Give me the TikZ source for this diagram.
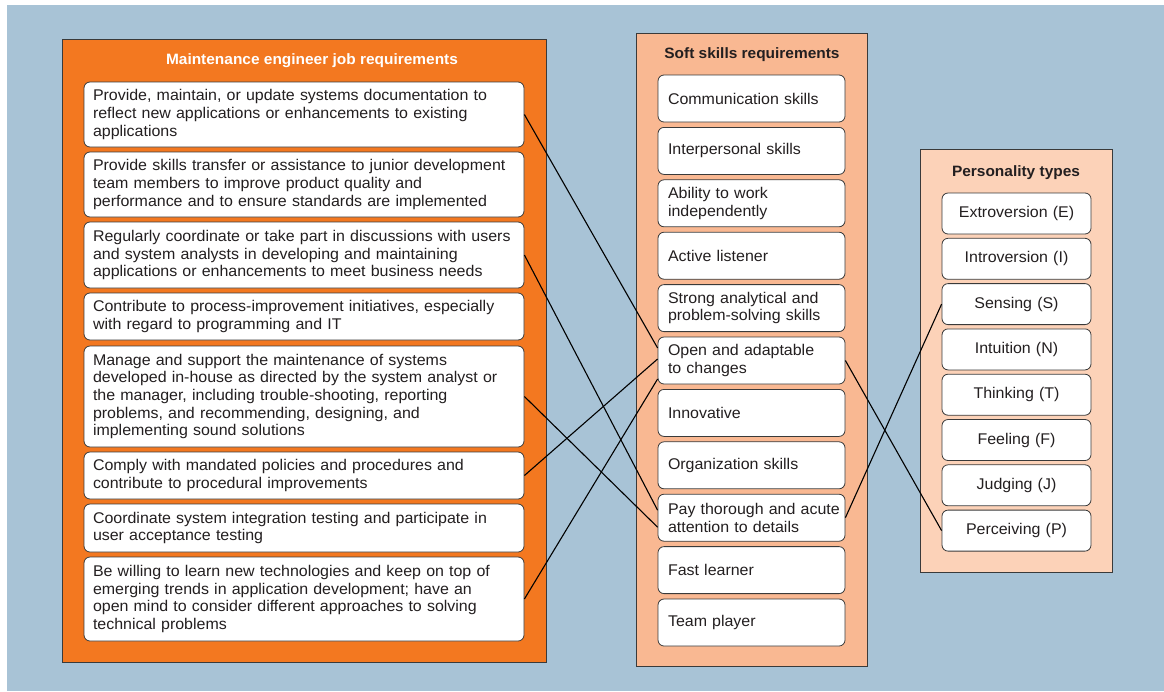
\documentclass[tikz,border=0pt]{standalone}
\usepackage{fontspec}
\setmainfont{Liberation Sans}[FakeStretch=1.03]
\usetikzlibrary{calc}
\definecolor{bgblue}{HTML}{A8C3D6}
\definecolor{orng}{HTML}{F37820}
\definecolor{salmon}{HTML}{F9B892}
\definecolor{peach}{HTML}{FCD2B8}
\definecolor{txt}{HTML}{231F20}
\definecolor{edgec}{HTML}{3A3A3A}
\begin{document}
\begin{tikzpicture}[x=1pt,y=-1pt,
  font=\fontsize{15.5}{17.7}\selectfont,
  panel/.style={draw=edgec, line width=0.9pt, inner sep=0pt, anchor=north west},
  ttl/.style={font=\fontsize{15}{17.7}\selectfont\bfseries, inner sep=0pt},
  jobbox/.style={draw=edgec, fill=white, rounded corners=6pt, line width=0.8pt,
    minimum width=440pt, text width=422pt, inner xsep=9pt, inner ysep=0pt,
    align=left, text=txt},
  skillbox/.style={draw=edgec, fill=white, rounded corners=6pt, line width=0.8pt,
    minimum width=187pt, text width=167pt, inner xsep=10pt, inner ysep=0pt,
    minimum height=47pt, align=left, text=txt},
  ptbox/.style={draw=edgec, fill=white, rounded corners=6pt, line width=0.8pt,
    minimum width=149pt, text width=131pt, inner xsep=9pt, inner ysep=0pt,
    minimum height=41pt, align=center, text=txt},
  conn/.style={draw=black, line width=1.1pt}]
\useasboundingbox (0,0) rectangle (1164,691);
\fill[white] (0,0) rectangle (1164,691);
\fill[bgblue] (7,5) rectangle (1164,691);

% panels
\node[panel, fill=orng, minimum width=484pt, minimum height=623pt] (jp) at (62,39) {};
\node[panel, fill=salmon, minimum width=231pt, minimum height=633pt] (sp) at (636,33) {};
\node[panel, fill=peach, minimum width=192pt, minimum height=423pt] (pp) at (920,149) {};

\node[ttl, text=white] (jt) at (312,61) {Maintenance engineer job requirements};
\node[ttl, text=txt] (st) at (752,55) {Soft skills requirements};
\node[ttl, text=txt] (pt) at (1016,173) {Personality types};

% job requirement boxes
\node[jobbox, minimum height=65pt] (j1) at (304,114.5) {Provide, maintain, or update systems documentation to\\ reflect new applications or enhancements to existing\\ applications};
\node[jobbox, minimum height=65pt] (j2) at (304,184.5) {Provide skills transfer or assistance to junior development\\ team members to improve product quality and\\ performance and to ensure standards are implemented};
\node[jobbox, minimum height=66pt] (j3) at (304,255) {Regularly coordinate or take part in discussions with users\\ and system analysts in developing and maintaining\\ applications or enhancements to meet business needs};
\node[jobbox, minimum height=47pt] (j4) at (304,316.5) {Contribute to process-improvement initiatives, especially\\ with regard to programming and IT};
\node[jobbox, minimum height=101pt] (j5) at (304,396.5) {Manage and support the maintenance of systems\\ developed in-house as directed by the system analyst or\\ the manager, including trouble-shooting, reporting\\ problems, and recommending, designing, and\\ implementing sound solutions};
\node[jobbox, minimum height=47pt] (j6) at (304,475.5) {Comply with mandated policies and procedures and\\ contribute to procedural improvements};
\node[jobbox, minimum height=48pt] (j7) at (304,528) {Coordinate system integration testing and participate in\\ user acceptance testing};
\node[jobbox, minimum height=84pt] (j8) at (304,599) {Be willing to learn new technologies and keep on top of\\ emerging trends in application development; have an\\ open mind to consider different approaches to solving\\ technical problems};

% soft skill boxes
\node[skillbox] (s1) at (751.5,98.5) {Communication skills};
\node[skillbox] (s2) at (751.5,150.9) {Interpersonal skills};
\node[skillbox] (s3) at (751.5,203.3) {Ability to work\\ independently};
\node[skillbox] (s4) at (751.5,255.7) {Active listener};
\node[skillbox] (s5) at (751.5,308.1) {Strong analytical and\\ problem-solving skills};
\node[skillbox] (s6) at (751.5,360.5) {Open and adaptable\\ to changes};
\node[skillbox] (s7) at (751.5,412.9) {Innovative};
\node[skillbox] (s8) at (751.5,465.3) {Organization skills};
\node[skillbox] (s9) at (751.5,517.7) {\mbox{Pay thorough and acute}\\ attention to details};
\node[skillbox] (s10) at (751.5,570.1) {Fast learner};
\node[skillbox] (s11) at (751.5,622.5) {Team player};

% personality type boxes
\node[ptbox] (p1) at (1016.5,213.5) {Extroversion (E)};
\node[ptbox] (p2) at (1016.5,258.8) {Introversion (I)};
\node[ptbox] (p3) at (1016.5,304.1) {Sensing (S)};
\node[ptbox] (p4) at (1016.5,349.4) {Intuition (N)};
\node[ptbox] (p5) at (1016.5,394.7) {Thinking (T)};
\node[ptbox] (p6) at (1016.5,440) {Feeling (F)};
\node[ptbox] (p7) at (1016.5,485.3) {Judging (J)};
\node[ptbox] (p8) at (1016.5,530.6) {Perceiving (P)};

% connectors
\draw[conn] (j1.east) -- ([yshift=12.5pt]s6.west);
\draw[conn] (j3.east) -- ([yshift=7.5pt]s9.west);
\draw[conn] (j5.east) -- ([yshift=-9.5pt]s9.west);
\draw[conn] (j6.east) -- ([yshift=1.5pt]s6.west);
\draw[conn] (j8.east) -- ([yshift=-18.5pt]s6.west);
\draw[conn] (s6.east) -- (p8.west);
\draw[conn] (s9.east) -- (p3.west);
\end{tikzpicture}
\end{document}
